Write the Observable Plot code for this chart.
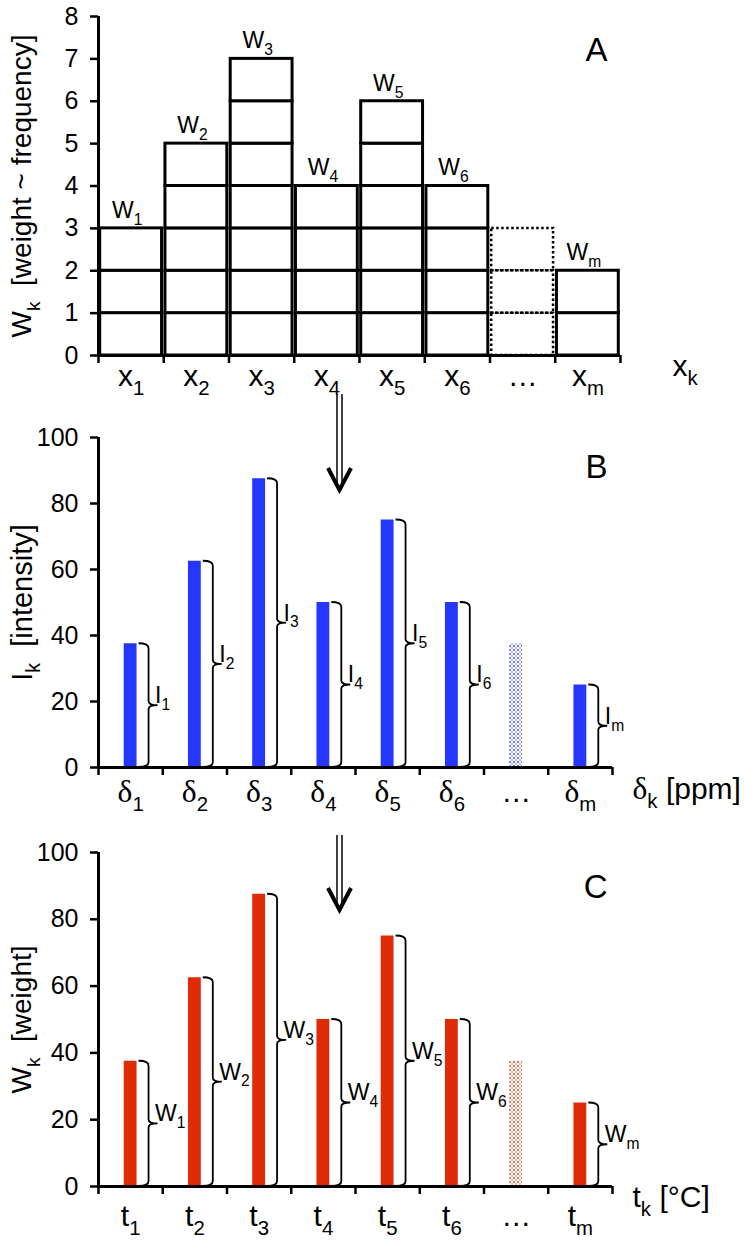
<!DOCTYPE html>
<html><head><meta charset="utf-8">
<script src="https://cdn.jsdelivr.net/npm/d3@7"></script>
<script src="https://cdn.jsdelivr.net/npm/@observablehq/plot@0.6"></script>
<style>
body{margin:0;background:#fff;}
#wrap{position:relative;width:744px;height:1243px;overflow:hidden;font-family:"Liberation Sans",Arial,sans-serif;}
#wrap > svg{position:absolute;left:0;}
</style></head><body><div id="wrap"></div>
<script>
// ---------- data ----------
const catA = ["x_{1}","x_{2}","x_{3}","x_{4}","x_{5}","x_{6}","…","x_{m}"];
const weightsA = [3,5,7,4,6,4,3,2];            // index 6 = dotted placeholder column
const weightLabelsA = ["W_{1}","W_{2}","W_{3}","W_{4}","W_{5}","W_{6}","","W_{m}"];
const placeholder = 6;

const catB = ["δ_{1}","δ_{2}","δ_{3}","δ_{4}","δ_{5}","δ_{6}","…","δ_{m}"];
const intensityB = [37.5,62.5,87.5,50,75,50,37.5,25];
const braceLabelsB = ["I_{1}","I_{2}","I_{3}","I_{4}","I_{5}","I_{6}","","I_{m}"];

const catC = ["t_{1}","t_{2}","t_{3}","t_{4}","t_{5}","t_{6}","…","t_{m}"];
const weightC = [37.5,62.5,87.5,50,75,50,37.5,25];
const braceLabelsC = ["W_{1}","W_{2}","W_{3}","W_{4}","W_{5}","W_{6}","","W_{m}"];

const ticksA = [0,1,2,3,4,5,6,7,8];
const ticksBC = [0,20,40,60,80,100];

const BLUE = "#2536ff", RED = "#e02c06";
const FONT = "Liberation Sans, Arial, sans-serif";
const wrap = document.getElementById("wrap");

// ---------- helpers ----------
function richText(svg) {
  d3.select(svg).selectAll("text").each(function () {
    const s = this.textContent;
    if (!/_\{|δ/.test(s)) return;
    const fs = parseFloat(getComputedStyle(this).fontSize) || 20;
    const subSize = fs * 0.68, shift = fs * 0.3;
    const el = d3.select(this);
    el.selectAll("*").remove();
    el.text(null);
    let pendingUp = false;
    const addNormal = (str) => {
      str.split(/(δ)/).forEach(part => {
        if (!part) return;
        const t = el.append("tspan").text(part);
        if (pendingUp) { t.attr("dy", -shift); pendingUp = false; }
        if (part === "δ") t.attr("font-family", "Liberation Serif, serif").attr("font-size", fs * 1.05);
      });
    };
    const re = /_\{([^}]*)\}/g;
    let last = 0, m;
    while ((m = re.exec(s))) {
      addNormal(s.slice(last, m.index));
      const t = el.append("tspan").text(m[1]).attr("font-size", subSize);
      t.attr("dy", pendingUp ? 0 : shift);
      pendingUp = true;
      last = re.lastIndex;
    }
    addNormal(s.slice(last));
  });
}
function thickAxes(svg) {
  d3.select(svg).selectAll("g[aria-label*='axis'] line, g[aria-label*='axis'] path")
    .attr("stroke-width", 2.5).attr("stroke", "black");
}
function addPattern(svg, id, color) {
  const defs = d3.select(svg).insert("defs", ":first-child");
  const p = defs.append("pattern").attr("id", id).attr("patternUnits", "userSpaceOnUse")
    .attr("width", 4).attr("height", 4);
  p.append("rect").attr("width", 4).attr("height", 4).attr("fill", "white");
  p.append("path").attr("d", "M0.5,0.5L3.5,3.5M3.5,0.5L0.5,3.5").attr("stroke", color)
    .attr("stroke-width", 0.9).attr("stroke-opacity", 0.75);
}
function braceMark(values, labels) {
  return (index, scales) => {
    const g = d3.create("svg:g").attr("fill", "none").attr("stroke", "black").attr("stroke-width", 1.8);
    values.forEach((v, i) => {
      if (!labels[i]) return;
      const y0 = scales.y(0), y1 = scales.y(v), ym = (y0 + y1) / 2;
      const xl = scales.x(i + 0.6) + 2, xv = xl + 10, xt = xv + 9;
      g.append("path").attr("d",
        `M${xl},${y1}Q${xv},${y1} ${xv},${y1 + 5}L${xv},${ym - 4}Q${xv},${ym} ${xt},${ym}` +
        `Q${xv},${ym} ${xv},${ym + 4}L${xv},${y0 - 5}Q${xv},${y0} ${xl},${y0}`);
    });
    return g.node();
  };
}
const idx = d3.range(catA.length);

// ---------- panel A ----------
const cells = idx.flatMap(i => d3.range(weightsA[i]).map(j => ({i, lo: j, hi: j + 1})));
const plotA = Plot.plot({
  width: 744, height: 400, marginLeft: 98, marginRight: 124, marginTop: 16, marginBottom: 45,
  style: {fontSize: "25px", fontFamily: FONT, color: "black", background: "white", overflow: "visible"},
  x: {domain: [0, 8], ticks: d3.range(0, 9), tickFormat: () => "", tickSize: 8, label: null},
  y: {domain: [0, 8], ticks: ticksA, tickSize: 8, tickPadding: 12, label: null},
  marks: [
    Plot.rect(cells.filter(d => d.i !== placeholder), {x1: d => d.i, x2: d => d.i + 1, y1: "lo", y2: "hi",
      fill: "white", stroke: "black", strokeWidth: 3, insetLeft: 1.7, insetRight: 1.7}),
    Plot.rect(cells.filter(d => d.i === placeholder), {x1: d => d.i, x2: d => d.i + 1, y1: "lo", y2: "hi",
      fill: "none", stroke: "black", strokeWidth: 2.5, strokeDasharray: "2.5,2.5", insetLeft: 1.7, insetRight: 1.7}),
    Plot.ruleX([0], {strokeWidth: 3}),
    Plot.ruleY([0], {strokeWidth: 3}),
    Plot.text(idx, {x: i => i + 0.5, y: i => weightsA[i], text: i => weightLabelsA[i], dx: -4, dy: -18, fontSize: 23}),
    Plot.text(idx, {x: i => i + 0.5, y: 0, text: i => catA[i], dy: 21, fontSize: 30}),
    Plot.text(["x_{k}"], {text: d => d, frameAnchor: "bottom-right", textAnchor: "start", dx: 52, dy: 20, fontSize: 30}),
    Plot.text(["A"], {text: d => d, frameAnchor: "top-right", textAnchor: "end", lineAnchor: "top", dx: -13, dy: 21, fontSize: 33}),
    Plot.text(["W_{k}  [weight ~ frequency]"], {text: d => d, frameAnchor: "left", textAnchor: "middle", rotate: -90, dx: -76, fontSize: 28})
  ]
});

// ---------- panel B / C ----------
function barPanel(cfg) {
  const p = Plot.plot({
    width: 744, height: cfg.height, marginLeft: 98, marginRight: 132, marginTop: cfg.mt, marginBottom: cfg.mb,
    style: {fontSize: "25px", fontFamily: FONT, color: "black", background: "white", overflow: "visible"},
    x: {domain: [0, 8], ticks: d3.range(0, 9), tickFormat: () => "", tickSize: 8, label: null},
    y: {domain: [0, 100], ticks: ticksBC, tickSize: 8, tickPadding: 12, label: null},
    marks: [
      Plot.rect(idx.filter(i => i !== placeholder), {x1: i => i + 0.4, x2: i => i + 0.6, y1: 0, y2: i => cfg.values[i], fill: cfg.color}),
      Plot.rect([placeholder], {x1: i => i + 0.4, x2: i => i + 0.6, y1: 0, y2: i => cfg.values[i], fill: `url(#${cfg.pid})`}),
      braceMark(cfg.values, cfg.braceLabels),
      Plot.text(idx, {x: i => i + 0.6, y: i => cfg.values[i] / 2, text: i => cfg.braceLabels[i], textAnchor: "start", dx: 18, dy: -10, fontSize: 23}),
      Plot.ruleX([0], {strokeWidth: 3}),
      Plot.ruleY([0], {strokeWidth: 3}),
      Plot.text(idx, {x: i => i + 0.5, y: 0, text: i => cfg.cats[i], dy: cfg.catDy, fontSize: 30}),
      Plot.text([cfg.xTitle], {text: d => d, frameAnchor: "bottom-right", textAnchor: "start", dx: cfg.xtDx, dy: cfg.xtDy, fontSize: 30}),
      Plot.text([cfg.letter], {text: d => d, frameAnchor: "top-right", textAnchor: "end", lineAnchor: "top", dx: -5, dy: cfg.letterDy, fontSize: 33}),
      Plot.text([cfg.yTitle], {text: d => d, frameAnchor: "left", textAnchor: "middle", rotate: -90, dx: -76, fontSize: cfg.ytFs})
    ]
  });
  addPattern(p, cfg.pid, cfg.color);
  return p;
}
const plotB = barPanel({height: 420, mt: 37, mb: 53, values: intensityB, braceLabels: braceLabelsB, cats: catB,
  color: BLUE, pid: "hatchB", xTitle: "δ_{k} [ppm]", xtDx: 20, xtDy: 31, letter: "B", letterDy: 17,
  yTitle: "I_{k}  [intensity]", catDy: 25, ytFs: 29});
const plotC = barPanel({height: 423, mt: 32, mb: 57, values: weightC, braceLabels: braceLabelsC, cats: catC,
  color: RED, pid: "hatchC", xTitle: "t_{k} [°C]", xtDx: 20, xtDy: 20, letter: "C", letterDy: 22,
  yTitle: "W_{k}  [weight]", catDy: 30, ytFs: 28});

[[plotA, 0], [plotB, 400], [plotC, 820]].forEach(([p, top]) => {
  p.style.top = top + "px";
  wrap.appendChild(p);
  thickAxes(p);
  richText(p);
});

// ---------- arrows between panels (annotation) ----------
const ov = d3.select(wrap).append("svg").attr("width", 744).attr("height", 1243)
  .style("position", "absolute").style("left", 0).style("top", 0).style("pointer-events", "none");
[[394, 490], [835, 910]].forEach(([a, b]) => {
  ov.append("line").attr("x1", 337).attr("x2", 337).attr("y1", a).attr("y2", b - 4).attr("stroke", "black").attr("stroke-width", 1.5);
  ov.append("line").attr("x1", 342).attr("x2", 342).attr("y1", a).attr("y2", b - 4).attr("stroke", "black").attr("stroke-width", 1.5);
  ov.append("path").attr("d", `M328,${b - 22}L339.5,${b}L351,${b - 22}`).attr("fill", "none").attr("stroke", "black").attr("stroke-width", 4);
});
</script></body></html>
